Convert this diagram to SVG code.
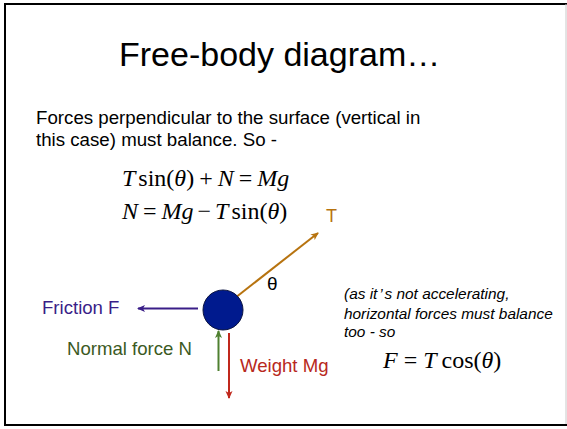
<svg xmlns="http://www.w3.org/2000/svg" width="567" height="429" viewBox="0 0 567 429">
<style>
.sans{font-family:"Liberation Sans",Arial,sans-serif}
.math{font-family:"Liberation Serif","Times New Roman",serif;font-size:24px;fill:#000}
.it{font-style:italic}
.note{font-family:"Liberation Sans",Arial,sans-serif;font-style:italic;font-size:15.4px;fill:#000}
</style>
<defs>
<marker id="ahT" markerWidth="8" markerHeight="8" refX="7" refY="4" orient="auto" markerUnits="userSpaceOnUse"><path d="M0,0.5 L8,4 L0,7.5 L2,4 Z" fill="#b7730f"/></marker>
<marker id="ahF" markerWidth="8" markerHeight="8" refX="7" refY="4" orient="auto" markerUnits="userSpaceOnUse"><path d="M0,0.5 L8,4 L0,7.5 L2,4 Z" fill="#3a1e88"/></marker>
<marker id="ahN" markerWidth="8" markerHeight="8" refX="7" refY="4" orient="auto" markerUnits="userSpaceOnUse"><path d="M0,0.5 L8,4 L0,7.5 L2,4 Z" fill="#4f8030"/></marker>
<marker id="ahW" markerWidth="8" markerHeight="8" refX="7" refY="4" orient="auto" markerUnits="userSpaceOnUse"><path d="M0,0.5 L8,4 L0,7.5 L2,4 Z" fill="#c0281c"/></marker>
</defs>
<rect x="0" y="0" width="567" height="429" fill="#fff"/>
<g id="frame" fill="none">
<line x1="4" y1="4" x2="567" y2="4" stroke="#000" stroke-width="2"/>
<line x1="5" y1="3" x2="5" y2="426" stroke="#000" stroke-width="2"/>
<line x1="4" y1="425" x2="567" y2="425" stroke="#000" stroke-width="2"/>
<line x1="566" y1="4" x2="566" y2="424" stroke="#c8c8c8" stroke-width="1"/>
</g>
<text id="title" class="sans" x="119" y="66" font-size="34" fill="#000">Free-body diagram…</text>
<g id="intro" class="sans" font-size="18.7" fill="#000">
<text x="36" y="124">Forces perpendicular to the surface (vertical in</text>
<text x="36" y="146">this case) must balance. So -</text>
</g>
<g id="eq1">
<text class="math" x="122" y="186"><tspan class="it">T</tspan><tspan dx="3">sin(</tspan><tspan class="it">θ</tspan>)<tspan dx="5">+</tspan><tspan class="it" dx="5">N</tspan><tspan dx="5">=</tspan><tspan class="it" dx="5">Mg</tspan></text>
</g>
<g id="eq2">
<text class="math" x="122" y="219"><tspan class="it">N</tspan><tspan dx="5">=</tspan><tspan class="it" dx="5">Mg</tspan><tspan dx="4">−</tspan><tspan class="it" dx="4">T</tspan><tspan dx="3">sin(</tspan><tspan class="it">θ</tspan>)</text>
</g>
<g id="connectors" fill="none" stroke-width="2">
<line x1="235" y1="298" x2="318" y2="233" stroke="#b7730f" marker-end="url(#ahT)"/>
<line x1="198" y1="308.5" x2="138" y2="308.5" stroke="#3a1e88" marker-end="url(#ahF)"/>
<line x1="218.5" y1="371" x2="218.5" y2="331" stroke="#4f8030" marker-end="url(#ahN)"/>
<line x1="229" y1="333" x2="229" y2="398" stroke="#c0281c" marker-end="url(#ahW)"/>
</g>
<g id="body">
<circle cx="223" cy="310" r="20" fill="#001a8e" stroke="#0b1440" stroke-width="1"/>
</g>
<g id="label-T"><text class="sans" x="326" y="222" font-size="18" fill="#b7730f">T</text></g>
<g id="label-theta"><text class="sans" x="267" y="290" font-size="19" fill="#000">θ</text></g>
<g id="label-friction"><text class="sans" x="42" y="314" font-size="18.6" fill="#3a1e88">Friction F</text></g>
<g id="label-normal"><text class="sans" x="67" y="355" font-size="18.6" fill="#3c5a1f">Normal force N</text></g>
<g id="label-weight"><text class="sans" x="240" y="372" font-size="18.6" fill="#b82820">Weight Mg</text></g>
<g id="note">
<text class="note" x="344" y="299">(as it<tspan dx="2">’</tspan><tspan dx="2">s not accelerating,</tspan></text>
<text class="note" x="344" y="319">horizontal forces must balance</text>
<text class="note" x="344" y="337">too - so</text>
</g>
<g id="eq3">
<text class="math" x="383" y="368"><tspan class="it">F</tspan><tspan dx="6">=</tspan><tspan class="it" dx="6">T</tspan><tspan dx="5">cos(</tspan><tspan class="it">θ</tspan>)</text>
</g>
</svg>
